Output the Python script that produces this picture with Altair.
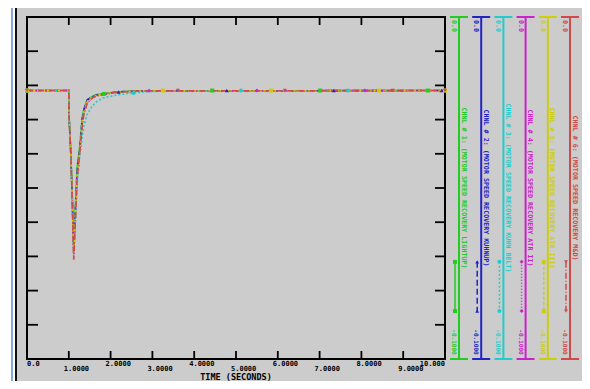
import altair as alt
import pandas as pd

# ---------------- data ----------------
SERIES = [
    "CHNL # 1: (MOTOR SPEED RECOVERY LIGHTUP)",
    "CHNL # 2: (MOTOR SPEED RECOVERY KUHNUP)",
    "CHNL # 3: (MOTOR SPEED RECOVERY KUHN BELT)",
    "CHNL # 4: (MOTOR SPEED RECOVERY ATR II)",
    "CHNL # 5: (MOTOR SPEED RECOVERY ATR III)",
    "CHNL # 6: (MOTOR SPEED RECOVERY M&D)",
]
COLORS = ["#22cc22", "#2323c4", "#22cccc", "#cc22cc", "#cccc11", "#d04a4a"]
DASHES = [[1, 0], [6, 3], [2, 2], [1, 2], [3, 2], [6, 2, 1, 2]]
SHAPES = ["square", "triangle-up", "circle", "diamond", "square", "triangle-down"]

X_TICKS = [0, 1, 2, 3, 4, 5, 6, 7, 8, 9, 10]
X_LABELS = ["0.0", "1.0000", "2.0000", "3.0000", "4.0000", "5.0000",
            "6.0000", "7.0000", "8.0000", "9.0000", "10.000"]
Y_TICKS = [-0.01, -0.02, -0.03, -0.04, -0.05, -0.06, -0.07, -0.08, -0.09]
Y_TOP_LABEL = "0.0"
Y_BOTTOM_LABEL = "-0.1000"
X_TITLE = "TIME  (SECONDS)"

T_STD = [0.0, 1.0, 1.01, 1.045, 1.085, 1.105, 1.118, 1.135, 1.17, 1.2, 1.26,
         1.32, 1.36, 1.44, 1.55, 1.66, 1.9, 2.15, 2.55, 3.0, 10.0]
V_GREEN = [-0.0215, -0.0215, -0.030, -0.039, -0.0535, -0.063, -0.066, -0.061, -0.052, -0.044, -0.038,
           -0.0295, -0.027, -0.0242, -0.0233, -0.0227, -0.0223, -0.0219, -0.0217, -0.0216, -0.0215]
V_BLUE = [-0.0215, -0.0215, -0.030, -0.039, -0.0535, -0.064, -0.067, -0.062, -0.0535, -0.045, -0.039,
          -0.030, -0.0272, -0.0243, -0.0234, -0.0228, -0.0224, -0.0219, -0.0217, -0.0216, -0.0215]
T_CYAN = [0.0, 1.0, 1.01, 1.045, 1.085, 1.105, 1.118, 1.135, 1.17, 1.2, 1.26,
          1.32, 1.36, 1.44, 1.55, 1.66, 1.82, 2.15, 2.55, 2.95, 3.4, 10.0]
V_CYAN = [-0.0215, -0.0215, -0.030, -0.039, -0.0535, -0.065, -0.068, -0.066, -0.057, -0.049, -0.041,
          -0.035, -0.032, -0.0285, -0.0262, -0.0248, -0.0237, -0.0228, -0.0222, -0.0218, -0.0216, -0.0215]
V_MAGENTA = [-0.0215, -0.0215, -0.030, -0.039, -0.054, -0.066, -0.070, -0.065, -0.055, -0.047, -0.040,
             -0.0315, -0.0282, -0.0250, -0.0237, -0.0230, -0.0225, -0.0220, -0.0217, -0.0216, -0.0215]
V_YELLOW = [-0.0215, -0.0215, -0.030, -0.039, -0.054, -0.065, -0.069, -0.064, -0.054, -0.046, -0.0395,
            -0.031, -0.0278, -0.0247, -0.0236, -0.0229, -0.0224, -0.0220, -0.0217, -0.0216, -0.0215]
V_RED = [-0.0215, -0.0215, -0.030, -0.039, -0.054, -0.066, -0.071, -0.066, -0.056, -0.047, -0.040,
         -0.032, -0.0285, -0.0252, -0.0238, -0.0231, -0.0225, -0.0220, -0.0217, -0.0216, -0.0215]

# symbol positions along each curve
MK_T = [
    [0.0, 1.84, 4.43, 7.01, 9.59],
    [0.0, 2.19, 4.78, 7.34, 9.92],
    [0.0, 2.55, 5.12, 7.68, 10.0],
    [0.0, 2.92, 5.50, 8.08, 10.0],
    [0.0, 3.25, 5.84, 8.42, 10.0],
    [0.0, 3.61, 6.17, 8.75, 10.0],
]
MK_V = [
    [-0.0215, -0.0225, -0.0215, -0.0215, -0.0215],
    [-0.0215, -0.0219, -0.0215, -0.0215, -0.0215],
    [-0.0215, -0.0222, -0.0215, -0.0215, -0.0215],
    [-0.0215, -0.0216, -0.0215, -0.0215, -0.0215],
    [-0.0215, -0.0215, -0.0215, -0.0215, -0.0215],
    [-0.0215, -0.0215, -0.0215, -0.0215, -0.0215],
]

# ---------------- tables ----------------
curve_ts = [T_STD, T_STD, T_CYAN, T_STD, T_STD, T_STD]
curve_vs = [V_GREEN, V_BLUE, V_CYAN, V_MAGENTA, V_YELLOW, V_RED]
rows = []
for name, ts, vs in zip(SERIES, curve_ts, curve_vs):
    for t, v in zip(ts, vs):
        rows.append({"series": name, "t": t, "v": v})
curves = pd.DataFrame(rows)

mrows = []
for name, ts, vs in zip(SERIES, MK_T, MK_V):
    for t, v in zip(ts, vs):
        mrows.append({"series": name, "t": t, "v": v})
marks = pd.DataFrame(mrows)

xticks_df = pd.DataFrame({"t": X_TICKS[1:-1]})
yticks_df = pd.DataFrame({"v": Y_TICKS})
labels_df = pd.DataFrame({"t": X_TICKS, "label": X_LABELS})
leg_df = pd.DataFrame({"series": SERIES})
one = pd.DataFrame({"k": [0]})

# ---------------- scales & styles ----------------
W, H = 418, 342
FONT = "DejaVu Sans Mono"
XS = alt.Scale(domain=[0, 10], nice=False, zero=False)
YS = alt.Scale(domain=[-0.1, 0], nice=False, zero=False)
CS = alt.Scale(domain=SERIES, range=COLORS)
DS = alt.Scale(domain=SERIES, range=DASHES)
SS = alt.Scale(domain=SERIES, range=SHAPES)

X = alt.X("t:Q", scale=XS, axis=None)
Y = alt.Y("v:Q", scale=YS, axis=None)
COLOR = alt.Color("series:N", scale=CS, legend=None)
DASH = alt.StrokeDash("series:N", scale=DS, legend=None)
SHAPE = alt.Shape("series:N", scale=SS, legend=None)
LX = alt.X("series:N", scale=alt.Scale(type="point", domain=SERIES, range=[432, 543], padding=0), axis=None)
LXS = alt.X("series:N", scale=alt.Scale(type="point", domain=SERIES, range=[428, 539], padding=0), axis=None)

# ---------------- frame decoration ----------------
white_left = alt.Chart(one).mark_rect(color="white").encode(
    x=alt.value(-19), x2=alt.value(-11), y=alt.value(-9), y2=alt.value(H + 40))
blue_left = alt.Chart(one).mark_rule(color="#86a9da", strokeWidth=2).encode(
    x=alt.value(-15), y=alt.value(-9), y2=alt.value(H + 40))
black_left = alt.Chart(one).mark_rule(color="#111111", strokeWidth=2).encode(
    x=alt.value(-11), y=alt.value(-9), y2=alt.value(H + 40))

# ---------------- plot ----------------
lines = alt.Chart(curves).mark_line(strokeWidth=1.6, clip=True).encode(
    x=X, y=Y, color=COLOR, strokeDash=DASH)
points = alt.Chart(marks).mark_point(filled=True, size=16, opacity=1).encode(
    x=X, y=Y, color=COLOR, shape=SHAPE)

tick_style = dict(color="black", strokeWidth=1.8)
top_ticks = alt.Chart(xticks_df).mark_rule(**tick_style).encode(
    x=alt.X("t:Q", scale=XS, axis=None), y=alt.value(0), y2=alt.value(8))
bottom_ticks = alt.Chart(xticks_df).mark_rule(**tick_style).encode(
    x=alt.X("t:Q", scale=XS, axis=None), y=alt.value(H), y2=alt.value(H - 8))
left_ticks = alt.Chart(yticks_df).mark_rule(**tick_style).encode(
    y=Y, x=alt.value(0), x2=alt.value(11))
right_ticks = alt.Chart(yticks_df).mark_rule(**tick_style).encode(
    y=Y, x=alt.value(W), x2=alt.value(W - 10))

lab_style = dict(font=FONT, fontSize=7, fontWeight="bold", color="black", baseline="middle")
lab_even = alt.Chart(labels_df).transform_filter(
    "datum.t > 0 && datum.t < 10 && datum.t % 2 == 0").mark_text(align="left", dx=-5, **lab_style).encode(
    x=X, y=alt.value(H + 5), text="label:N")
lab_odd = alt.Chart(labels_df).transform_filter(
    "datum.t % 2 == 1").mark_text(align="left", dx=-5, **lab_style).encode(
    x=X, y=alt.value(H + 10), text="label:N")
lab_first = alt.Chart(labels_df).transform_filter("datum.t == 0").mark_text(
    align="left", **lab_style).encode(x=X, y=alt.value(H + 5), text="label:N")
lab_last = alt.Chart(labels_df).transform_filter("datum.t == 10").mark_text(
    align="right", **lab_style).encode(x=X, y=alt.value(H + 5), text="label:N")
x_title = alt.Chart(one).mark_text(
    text=X_TITLE, font=FONT, fontSize=8.5, fontWeight="bold", color="black", align="center", baseline="middle").encode(
    x=alt.value(W / 2), y=alt.value(H + 18))

# ---------------- per-channel scale legend ----------------
leg_axis = alt.Chart(leg_df).mark_rule(strokeWidth=2).encode(
    x=LX, y=alt.datum(0), y2=alt.datum(-0.1), color=COLOR)
leg_cap_top = alt.Chart(leg_df).mark_tick(orient="horizontal", size=18, thickness=2, opacity=1).encode(
    x=LX, y=alt.datum(0), color=COLOR)
leg_cap_bot = alt.Chart(leg_df).mark_tick(orient="horizontal", size=18, thickness=2, opacity=1).encode(
    x=LX, y=alt.datum(-0.1), color=COLOR)
leg_text = alt.Chart(leg_df).mark_text(
    angle=90, align="center", baseline="middle", dy=-4.5, font=FONT, fontSize=6.7, fontWeight="bold").encode(
    x=LX, y=alt.datum(-0.05), text="series:N", color=COLOR)
leg_top = alt.Chart(leg_df).mark_text(
    text=Y_TOP_LABEL, angle=90, align="center", baseline="middle", dx=9, dy=5,
    font=FONT, fontSize=6.7, fontWeight="bold").encode(x=LX, y=alt.datum(0), color=COLOR)
leg_bot = alt.Chart(leg_df).mark_text(
    text=Y_BOTTOM_LABEL, angle=90, align="center", baseline="middle", dx=-17, dy=5,
    font=FONT, fontSize=6, fontWeight="bold").encode(x=LX, y=alt.datum(-0.1), color=COLOR)
leg_sample = alt.Chart(leg_df).mark_rule(strokeWidth=1.5).encode(
    x=LXS, y=alt.datum(-0.0716), y2=alt.datum(-0.086), color=COLOR, strokeDash=DASH)
leg_pt1 = alt.Chart(leg_df).mark_point(filled=True, size=16, opacity=1).encode(
    x=LXS, y=alt.datum(-0.0716), color=COLOR, shape=SHAPE)
leg_pt2 = alt.Chart(leg_df).mark_point(filled=True, size=16, opacity=1).encode(
    x=LXS, y=alt.datum(-0.086), color=COLOR, shape=SHAPE)

chart = alt.layer(
    white_left, blue_left, black_left,
    lines, points,
    top_ticks, bottom_ticks, left_ticks, right_ticks,
    lab_even, lab_odd, lab_first, lab_last, x_title,
    leg_axis, leg_cap_top, leg_cap_bot, leg_text, leg_top, leg_bot,
    leg_sample, leg_pt1, leg_pt2,
).resolve_scale(x="independent").properties(
    width=W, height=H,
    padding={"left": 19, "top": 9, "right": 137, "bottom": 22},
    autosize=alt.AutoSizeParams(type="none"),
    background="#cccccc",
).configure_view(stroke="black", strokeWidth=2)

chart.save("out.html", embed_options={"renderer": "svg", "actions": False})
